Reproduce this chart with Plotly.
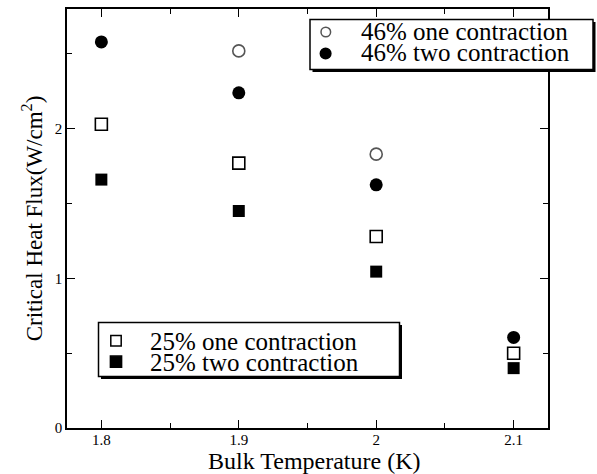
import plotly.graph_objects as go

temps = [1.8, 1.9, 2.0, 2.1]
x46_one = [1.9, 2.0]
y46_one = [2.52, 1.83]
y46_two = [2.58, 2.24, 1.625, 0.605]
y25_one = [2.03, 1.77, 1.28, 0.50]
y25_two = [1.66, 1.45, 1.045, 0.40]

xtick_vals = [1.8, 1.9, 2.0, 2.1]
xtick_text = ["1.8", "1.9", "2", "2.1"]
ytick_vals = [0, 1, 2]
ytick_text = ["0", "1", "2"]

series_names = ["46% one contraction", "46% two contraction",
                "25% one contraction", "25% two contraction"]
x_title = "Bulk Temperature (K)"
y_title = "Critical Heat Flux(W/cm<sup>2</sup>)"

FONT = "Liberation Serif"
W, H = 597, 474
L, R, T, B = 67, 49, 9, 46
PW, PH = W - L - R, H - T - B


def px(xp):
    return (xp - L) / PW


def py(yp):
    return (H - B - yp) / PH


fig = go.Figure()
fig.add_trace(go.Scatter(x=x46_one, y=y46_one, mode="markers", name=series_names[0],
                         marker=dict(symbol="circle-open", size=12, color="#555555", line=dict(width=1.6))))
fig.add_trace(go.Scatter(x=temps, y=y46_two, mode="markers", name=series_names[1],
                         marker=dict(symbol="circle", size=13, color="black")))
fig.add_trace(go.Scatter(x=temps, y=y25_one, mode="markers", name=series_names[2],
                         marker=dict(symbol="square-open", size=12, color="black", line=dict(width=1.6))))
fig.add_trace(go.Scatter(x=temps, y=y25_two, mode="markers", name=series_names[3],
                         marker=dict(symbol="square", size=12, color="black")))

axis_common = dict(showline=True, linecolor="black", linewidth=1.5, mirror="allticks",
                   ticks="inside", ticklen=8, tickwidth=1.3, tickcolor="black",
                   showgrid=False, zeroline=False, automargin=False,
                   tickfont=dict(family=FONT, size=15, color="black"),
                   minor=dict(ticks="inside", ticklen=5, tickwidth=1.3, tickcolor="black", showgrid=False))

fig.update_xaxes(range=[1.775, 2.125], tickvals=xtick_vals, ticktext=xtick_text,
                 ticklabelstandoff=-3, **axis_common)
fig.update_xaxes(minor_tickvals=[1.85, 1.95, 2.05])
fig.update_yaxes(range=[0, 2.8], tickvals=ytick_vals, ticktext=ytick_text,
                 title=dict(text=y_title, font=dict(family=FONT, size=23, color="black"), standoff=6),
                 **axis_common)
fig.update_yaxes(minor_tickvals=[0.5, 1.5, 2.5])

shapes = []
annotations = []


def legend_box(x0, y0, x1, y1):
    shapes.append(dict(type="rect", xref="paper", yref="paper", layer="above",
                       x0=px(x0 + 2.5), x1=px(x1 + 2.5), y0=py(y0 + 2.5), y1=py(y1 + 2.5),
                       fillcolor="black", line=dict(width=0)))
    shapes.append(dict(type="rect", xref="paper", yref="paper", layer="above",
                       x0=px(x0), x1=px(x1), y0=py(y0), y1=py(y1),
                       fillcolor="white", line=dict(color="black", width=1.5)))


def legend_marker(kind, cx, cy, r, fill, line_color):
    shapes.append(dict(type=kind, xref="paper", yref="paper", layer="above",
                       xsizemode="pixel", ysizemode="pixel",
                       xanchor=px(cx), yanchor=py(cy),
                       x0=-r, x1=r, y0=-r, y1=r,
                       fillcolor=fill, line=dict(color=line_color, width=1.5)))


def legend_text(text, x, y):
    annotations.append(dict(text=text, xref="paper", yref="paper", x=px(x), y=py(y),
                            xanchor="left", yanchor="middle", showarrow=False,
                            font=dict(family=FONT, size=25, color="black")))


# upper legend
legend_box(310, 19.5, 593, 69.5)
legend_marker("circle", 325.8, 32, 4.8, "white", "#555555")
legend_marker("circle", 325.6, 53.5, 5.3, "black", "black")
legend_text(series_names[0], 359, 31.5)
legend_text(series_names[1], 359, 53)

# lower legend
legend_box(98.5, 322.5, 399.5, 376.5)
legend_marker("rect", 116, 340.7, 5.2, "white", "black")
legend_marker("rect", 116, 361.7, 5.6, "black", "black")
legend_text(series_names[2], 148, 341)
legend_text(series_names[3], 148, 362)

# x axis title
annotations.append(dict(text=x_title, xref="paper", yref="paper", x=px(314), y=py(461),
                        xanchor="center", yanchor="middle", showarrow=False,
                        font=dict(family=FONT, size=24, color="black")))

fig.update_layout(
    width=W, height=H,
    margin=dict(l=L, r=R, t=T, b=B),
    paper_bgcolor="white", plot_bgcolor="white",
    font=dict(family=FONT, color="black"),
    showlegend=False,
    shapes=shapes,
    annotations=annotations,
)

fig.write_html("out.html")
